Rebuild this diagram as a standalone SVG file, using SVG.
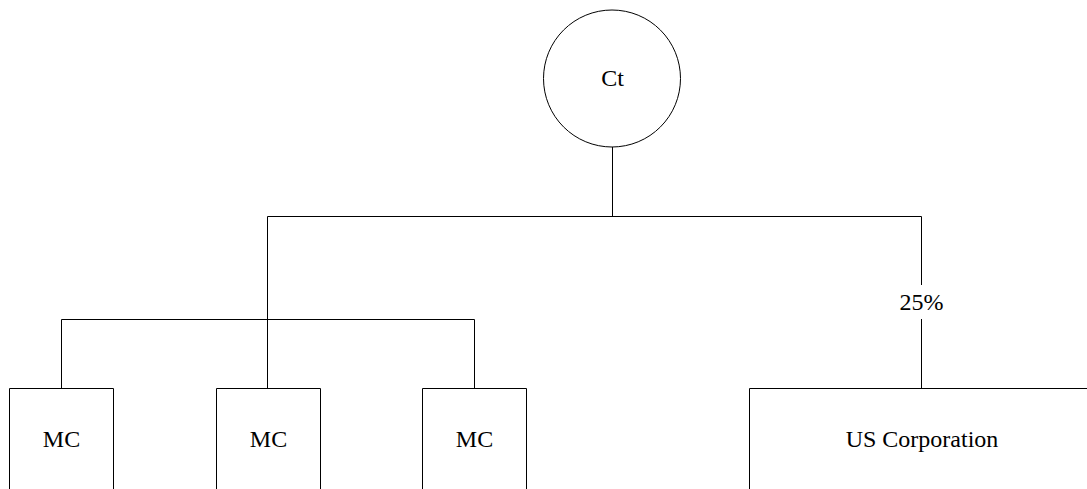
<svg xmlns="http://www.w3.org/2000/svg" width="1087" height="489" viewBox="0 0 1087 489">
  <style>
    .ln { fill: none; stroke: #000; stroke-width: 1; }
    .box { fill: #fff; stroke: #000; stroke-width: 1; }
    .lbl { font-family: "Liberation Serif", "Times New Roman", serif; font-size: 24px; fill: #000; text-anchor: middle; }
  </style>
  <rect width="1087" height="489" fill="#fff"/>

  <!-- connectors -->
  <g id="connectors" class="ln">
    <line x1="612.5" y1="147" x2="612.5" y2="216.5"/>
    <line x1="267.5" y1="216.5" x2="921.5" y2="216.5"/>
    <line x1="267.5" y1="216.5" x2="267.5" y2="388.5"/>
    <line x1="61.5" y1="319.5" x2="474.5" y2="319.5"/>
    <line x1="61.5" y1="319.5" x2="61.5" y2="388.5"/>
    <line x1="474.5" y1="319.5" x2="474.5" y2="388.5"/>
    <line x1="921.5" y1="216.5" x2="921.5" y2="285"/>
    <line x1="921.5" y1="319" x2="921.5" y2="388.5"/>
  </g>
  <text class="lbl" x="921.5" y="310">25%</text>

  <!-- Ct -->
  <g id="node-ct">
    <circle class="box" cx="612" cy="78.5" r="68.5"/>
    <text class="lbl" x="612.5" y="86">Ct</text>
  </g>

  <!-- MC boxes (open at the bottom edge) -->
  <g id="node-mc1">
    <path class="ln" d="M9.5 489 V388.5 H113.5 V489"/>
    <text class="lbl" x="61.5" y="447">MC</text>
  </g>
  <g id="node-mc2">
    <path class="ln" d="M216.5 489 V388.5 H320.5 V489"/>
    <text class="lbl" x="268.5" y="447">MC</text>
  </g>
  <g id="node-mc3">
    <path class="ln" d="M422.5 489 V388.5 H526.5 V489"/>
    <text class="lbl" x="474.5" y="447">MC</text>
  </g>

  <!-- US Corporation -->
  <g id="node-us">
    <path class="ln" d="M749.5 489 V388.5 H1087"/>
    <text class="lbl" x="922" y="447">US Corporation</text>
  </g>
</svg>
